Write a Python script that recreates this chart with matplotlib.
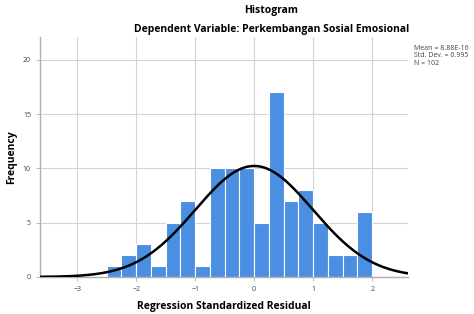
import numpy as np
import matplotlib
matplotlib.use("Agg")
import matplotlib.pyplot as plt

# histogram of regression standardized residuals (SPSS style)
bin_edges = [-2.5, -2.25, -2.0, -1.75, -1.5, -1.25, -1.0, -0.75, -0.5, -0.25,
             0.0, 0.25, 0.5, 0.75, 1.0, 1.25, 1.5, 1.75, 2.0]
counts = [1, 2, 3, 1, 5, 7, 1, 10, 10, 10, 5, 17, 7, 8, 5, 2, 2, 6]
xticks = [-3, -2, -1, 0, 1, 2]
yticks = [0, 5, 10, 15, 20]
mean, sd, n = 8.88e-16, 0.995, 102
stats_lines = ["Mean = 8.88E-16", "Std. Dev. = 0.995", "N = 102"]

plt.rcParams['font.family'] = ['Open Sans', 'DejaVu Sans']

fig = plt.figure(figsize=(4.74, 3.14), dpi=100)
ax = fig.add_axes([0.0844, 0.118, 0.7766, 0.764])

width = bin_edges[1] - bin_edges[0]
ax.bar(bin_edges[:-1], counts, width=width, align='edge',
       color='#4a8fe2', edgecolor='white', linewidth=0.8, zorder=2)

xs = np.linspace(-3.63, 2.61, 300)
curve = n * width / (sd * np.sqrt(2 * np.pi)) * np.exp(-0.5 * ((xs - mean) / sd) ** 2)
ax.plot(xs, curve, color='black', lw=1.8, zorder=3)

ax.set_xlim(-3.63, 2.61)
ax.set_ylim(0, 22.1)
ax.set_xticks(xticks)
ax.set_yticks(yticks)
ax.grid(True, color='#d4d4d4', lw=0.8, zorder=0)
ax.set_axisbelow(True)
for s in ['top', 'right']:
    ax.spines[s].set_visible(False)
for s in ['left', 'bottom']:
    ax.spines[s].set_color('#b0b0b0')
    ax.spines[s].set_linewidth(1.0)
ax.tick_params(colors='#b0b0b0', labelcolor='#444444', labelsize=5, length=3, width=0.6)

ax.set_xlabel('Regression Standardized Residual', fontsize=7.5, fontweight='bold')
ax.set_ylabel('Frequency', fontsize=7.5, fontweight='bold')
ax.xaxis.set_label_coords(0.5, -0.1)
ax.yaxis.set_label_coords(-0.062, 0.5)

fig.text(0.572, 0.965, 'Histogram', ha='center', va='center', fontsize=7.5, fontweight='bold')
fig.text(0.572, 0.905, 'Dependent Variable: Perkembangan Sosial Emosional',
         ha='center', va='center', fontsize=7.5, fontweight='bold')

fig.text(0.873, 0.822, '\n'.join(stats_lines), ha='left', va='center',
         fontsize=5, color='#444444', linespacing=1.15)

fig.savefig('out.png', dpi=100)
